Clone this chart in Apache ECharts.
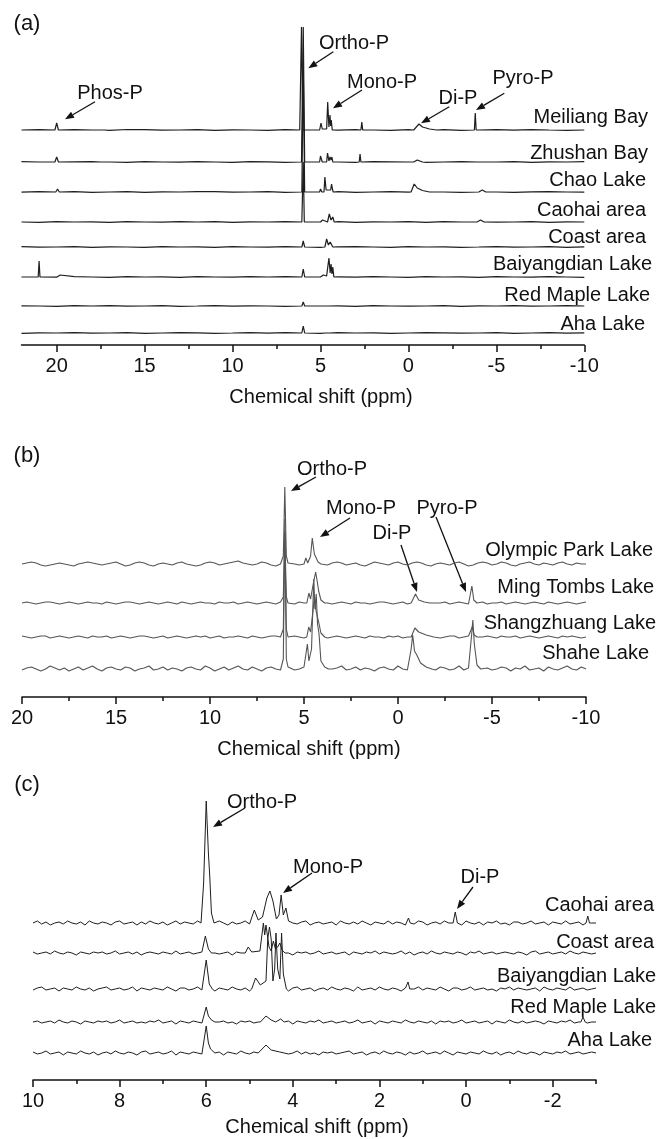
<!DOCTYPE html>
<html>
<head>
<meta charset="utf-8">
<script src="https://cdn.jsdelivr.net/npm/echarts@6/dist/echarts.min.js"></script>
<style>
html,body{margin:0;padding:0;background:#fff;}
#main{width:662px;height:1139px;}
</style>
</head>
<body>
<div id="main"></div>
<script>
// ---------- axis ticks (ppm) ----------
var ticksA = [20, 15, 10, 5, 0, -5, -10];
var minorA = [17.5, 12.5, 7.5, 2.5, -2.5, -7.5];
var ticksB = [20, 15, 10, 5, 0, -5, -10];
var minorB = [17.5, 12.5, 7.5, 2.5, -2.5, -7.5];
var ticksC = [10, 8, 6, 4, 2, 0, -2];
var minorC = [9, 7, 5, 3, 1, -1, -3];

// ---------- sample names (top to bottom) ----------
var lakesA = ['Meiliang Bay', 'Zhushan Bay', 'Chao Lake', 'Caohai area', 'Coast area', 'Baiyangdian Lake', 'Red Maple Lake', 'Aha Lake'];
var lakesB = ['Olympic Park Lake', 'Ming Tombs Lake', 'Shangzhuang Lake', 'Shahe Lake'];
var lakesC = ['Caohai area', 'Coast area', 'Baiyangdian Lake', 'Red Maple Lake', 'Aha Lake'];

// stacking offsets of each trace (intensity units)
var stackA = [215, 183, 153, 123, 98, 68, 39, 12];
var stackB = [133, 94, 60, 28];
var stackC = [157, 127, 91, 58, 27];

// ---------- baseline noise, read every 1 ppm (22 -> -10) ----------
var nA_mei = [0,0.4,-0.3,0.3,0,-0.4,0.5,0.3,-0.2,0,0.4,-0.3,0.2,0,-0.4,0.3,0,0.4,-0.2,0.3,0,-0.3,0.4,0,0.3,-0.4,0,0.3,-0.2,0.4,0,-0.3,0];
var nA_zhu = [0.3,0,-0.4,0.2,0.4,0,-0.3,0.3,0,-0.2,0.4,0,-0.3,0.3,0.2,-0.4,0,0.3,0,-0.3,0.4,0.2,0,-0.4,0,0.3,-0.2,0,0.4,-0.3,0.2,0,0.3];
var nA_chao = [-0.2,0.3,0,0.4,-0.3,0,0.3,-0.4,0.2,0,0.3,0.4,-0.2,0,0.3,-0.3,0,0.2,0.4,-0.3,0,0.3,-0.2,0.4,0,-0.3,0.3,0,-0.4,0.2,0.3,0,-0.2];
var nA_cao = [0,-0.3,0.4,0,0.2,-0.4,0.3,0,-0.2,0.4,0,0.3,-0.3,0.2,0,0.4,-0.2,0,0.3,-0.4,0.2,0,0.4,-0.3,0.3,0,0.5,-0.2,0,0.3,-0.4,0.2,0];
var nA_coast = [0.3,-0.2,0,0.4,-0.3,0.2,0,-0.4,0.3,0,0.2,-0.3,0.4,0,-0.2,0.3,0,-0.3,0.2,0.4,0,-0.4,0.3,0,0.2,-0.3,0,0.4,-0.2,0,0.3,-0.3,0.2];
var nA_bai = [0,0.4,-0.2,0.3,0,-0.3,0.4,0,0.2,-0.4,0.3,0,-0.2,0.4,0,0.3,-0.3,0,0.2,-0.2,0.4,0,-0.3,0.3,0,0.2,-0.4,0.3,0,-0.2,0.4,0,-0.3];
var nA_red = [0.2,0,-0.3,0.3,0,0.4,-0.2,0,0.3,-0.3,0,0.4,-0.2,0.2,0,-0.4,0.3,0,0.2,-0.3,0.4,0,-0.2,0,0.3,-0.3,0.2,0,0.4,-0.2,0,0.3,0];
var nA_aha = [-0.3,0.2,0,0.4,-0.2,0,0.3,-0.4,0,0.3,0.2,-0.3,0,0.4,-0.2,0.3,0,-0.3,0.4,0,0.2,-0.4,0,0.3,0.2,-0.2,0,0.4,-0.3,0,0.3,-0.2,0.2];

// ---------- baseline noise, read every 0.25 ppm (20 -> -10) ----------
var nB_oly = [0,1,2,1,-1,-2,-1,0,1,0, -1,-2,0,1,2,1,0,-1,0,1, 2,0,-2,-1,1,2,1,-1,-2,0, 1,0,-1,1,2,0,-1,-2,-1,1,
  2,1,-1,0,1,2,3,1,0,-1, 0,2,1,-1,-2,0,1,2,0,-1, -2,-1,1,2,0,-1,1,2,1,-1, 0,1,-1,-2,0,2,1,0,-1,1,
  2,0,-1,1,2,1,-1,-2,0,1, 0,-1,1,2,0,-2,-1,1,2,1, -1,0,2,1,-1,-2,0,1,2,0, -1,1,0,-1,1,2,0,-1,1,0, 0];
var nB_ming = [0,1,0,-1,0,1,1,0,-1,0, 1,0,-1,0,1,0,0,-1,1,0, -1,0,1,1,0,-1,0,1,0,-1, 0,1,0,-1,1,0,-1,0,1,0,
  0,-1,1,0,0,1,-1,0,1,0, -1,0,1,0,-1,1,0,0,-1,1, 0,-1,0,1,1,0,-1,0,1,0, -1,1,0,0,-1,0,1,1,0,-1,
  0,1,-1,0,1,0,-1,1,0,0, 1,-1,0,1,0,-1,0,1,1,-1, 0,0,1,-1,0,1,0,-1,0,1, 0,-1,1,0,-1,0,1,0,-1,0, 1];
var nB_shang = [1,0,-1,0,1,1,-1,0,1,0, -1,0,1,0,-1,1,0,0,1,-1, 0,1,0,-1,0,1,1,0,-1,0, 1,-1,0,1,0,-1,0,1,0,1,
  -1,0,1,-1,0,0,1,0,-1,1, 0,-1,0,1,1,0,-1,0,1,0, -1,1,0,0,1,-1,0,1,0,-1, 0,1,0,-1,1,0,0,-1,1,0,
  1,-1,0,1,0,0,-1,1,0,-1, 0,1,1,-1,0,1,0,-1,0,1, 0,-1,1,0,0,1,-1,0,1,0, -1,0,1,0,-1,1,0,1,0,-1, 0];
var nB_shahe = [-1,1,2,0,-2,0,3,1,-1,1, -2,0,2,-1,1,3,0,-2,1,2, 0,-1,2,1,-2,0,1,3,-1,0, 2,-1,1,0,-2,1,2,0,-1,3,
  1,-2,0,2,-1,1,3,0,-1,2, 0,-2,1,2,0,-1,1,3,-1,0, 2,-1,0,1,-2,2,0,1,3,-1, 0,2,-1,1,0,-2,1,2,0,-1,
  3,0,-1,1,2,-2,0,1,-1,2, 1,-1,0,3,-1,1,0,-2,2,1, -1,0,2,1,-2,1,0,3,-1,0, 1,-2,2,0,-1,1,3,0,-1,2, 0];

// ---------- baseline noise, read every 0.1 ppm (10 -> -3) ----------
var nC_cao = [0,2,-1,1,-2,0,1,-1,2,0, -1,1,-2,2,0,-1,1,0,-2,1, 2,-1,0,1,-2,1,-1,2,0,-1, 1,-2,0,2,-1,1,0,-1,2,-2,
  0,1,-1,2,0,-2,1,-1,0,2, -1,0,2,-2,1,0,-1,1,-2,2, 0,-1,1,2,-2,0,1,-1,0,1, -2,2,0,-1,1,-1,2,0,-2,1,
  0,-1,2,-1,1,0,-2,1,-1,2, 1,-2,0,1,-1,2,0,-1,1,-2, 2,0,-1,1,-2,1,0,2,-1,0, -2,1,1,-1,0,2,-1,0,1,-2,
  1,0,-1,2,-1,0,1,-2,2,0, 0];
var nC_coast = [1,-1,0,1,-1,2,0,-1,1,0, -2,1,0,-1,1,0,1,-1,0,2, -1,0,1,-1,1,-2,0,1,0,-1, 1,0,-1,2,-1,0,1,-1,0,1,
  -1,2,0,-1,0,1,-2,1,0,-1, 1,0,-1,1,2,-1,0,-1,1,0, -2,1,0,1,-1,0,2,-1,0,1, -1,0,1,-2,1,0,-1,1,0,2,
  -1,1,0,-1,0,2,-1,1,-2,0, 1,-1,2,0,-1,1,0,-1,1,0, -2,1,0,2,-1,0,1,-1,0,1, 0,-1,1,0,-2,1,2,-1,0,1,
  -1,0,1,-1,2,0,-1,1,0,-1, 0];
var nC_bai = [-1,1,2,-1,0,1,-2,1,0,-1, 2,0,-1,1,-2,0,1,2,-1,0, 1,-1,0,2,-2,1,0,-1,1,0, -1,2,0,-2,1,1,-1,0,2,-1,
  0,1,-2,1,0,-1,2,0,-1,1, -2,0,1,-1,2,0,-1,1,0,-2, 1,2,-1,0,1,-2,0,1,-1,2, 0,-1,1,0,-2,2,-1,0,1,-1,
  2,0,-1,1,0,-2,1,-1,0,2, -1,1,0,-1,2,0,-2,1,1,-1, 0,2,-1,0,1,-1,0,-2,1,0, 2,-1,1,0,-1,0,1,-2,2,0,
  -1,1,0,-1,2,-1,0,1,-1,0, 1];
var nC_red = [0,1,-1,0,1,-1,2,0,-1,1, 0,-2,1,0,-1,1,0,1,-1,0, 2,-1,0,1,-1,0,-1,1,0,2, -1,0,1,-2,1,0,-1,1,0,-1,
  1,2,-1,0,1,-1,0,-2,1,0, 1,-1,0,2,-1,1,0,-1,0,1, -2,1,0,-1,1,0,2,-1,0,1, -1,0,1,-1,0,2,-1,0,1,-2,
  1,0,-1,1,0,-1,2,0,-1,1, 0,-1,1,-2,1,0,1,-1,0,2, -1,0,1,-1,0,1,-2,1,0,-1, 2,0,-1,1,-1,0,1,0,-2,1,
  0,-1,1,0,2,-1,0,1,-1,0, 0];
var nC_aha = [1,-1,0,2,-1,0,1,-2,1,0, -1,2,0,-1,1,-2,0,1,-1,2, 0,-1,1,0,-2,1,2,-1,0,1, -1,0,2,-2,1,0,-1,1,0,-1,
  2,0,-1,1,-2,1,0,-1,2,0, -1,1,0,-2,1,2,-1,0,1,-1, 0,2,-1,1,-1,0,-2,1,0,1, -1,0,1,2,-1,0,1,-2,0,1,
  -1,2,0,-1,1,0,-2,1,-1,0, 2,-1,0,1,-1,2,0,-2,1,0, -1,1,0,-1,2,0,-1,1,-2,0, 1,-1,2,0,-1,1,0,-2,1,0,
  -1,1,0,2,-1,0,1,-1,0,1, 0];

// ---------- peaks: [ppm, intensity] ----------
var pA_mei = [
  [[20.1,0],[20.0,7],[19.9,0]],
  [[17.5,0],[17.4,2],[17.3,0]],
  [[6.18,0],[6.08,103],[6.0,0]],
  [[5.05,0],[4.97,7],[4.9,1],[4.65,1],[4.59,28],[4.52,3],[4.46,15],[4.42,4],[4.39,10],[4.33,0]],
  [[2.7,0],[2.65,8],[2.6,0]],
  [[-0.3,0],[-0.6,6],[-0.8,3],[-1.2,1],[-1.6,0]],
  [[-3.75,0],[-3.8,17],[-3.85,0]]
];
var pA_zhu = [
  [[20.1,0],[20.0,5],[19.9,0]],
  [[17.5,0],[17.4,1.5],[17.3,0]],
  [[6.08,0],[5.98,135],[5.9,0]],
  [[5.05,0],[5.0,6],[4.9,0],[4.65,0],[4.6,9],[4.52,1],[4.46,5],[4.4,2],[4.35,5],[4.3,0]],
  [[2.8,0],[2.75,8],[2.7,0]],
  [[-0.3,0],[-0.5,2],[-0.8,0]],
  [[-3.9,0],[-4.0,2],[-4.1,0]]
];
var pA_chao = [
  [[20.05,0],[19.95,3],[19.85,0]],
  [[6.06,0],[5.98,125],[5.9,0]],
  [[5.05,0],[5.0,3],[4.92,0],[4.8,0],[4.75,15],[4.68,2],[4.42,2],[4.37,8],[4.32,3],[4.28,0]],
  [[-0.15,0],[-0.33,8],[-0.5,4],[-0.8,1.5],[-1.2,0]],
  [[-4.0,0],[-4.2,2],[-4.4,0]]
];
var pA_cao = [
  [[6.06,0],[5.98,60],[5.92,0]],
  [[5.0,0],[4.88,2],[4.8,0],[4.6,0],[4.5,8],[4.4,2],[4.3,5],[4.22,0]],
  [[-3.9,0],[-4.1,2],[-4.3,0]]
];
var pA_coast = [
  [[6.06,0],[5.98,6],[5.9,0]],
  [[4.75,0],[4.65,8],[4.55,2],[4.45,5],[4.4,3],[4.37,6],[4.3,0]]
];
var pA_bai = [
  [[21.05,0],[21.0,16],[20.95,0]],
  [[19.9,0],[19.8,2],[19.7,0]],
  [[6.06,0],[5.98,8],[5.9,0]],
  [[4.9,0],[4.84,2],[4.65,1],[4.56,0],[4.52,19],[4.45,4],[4.4,13],[4.35,3],[4.3,10],[4.24,0]]
];
var pA_red = [
  [[6.06,0],[5.98,4],[5.9,0]],
  [[4.7,0],[4.6,2],[4.5,0]]
];
var pA_aha = [
  [[6.06,0],[5.98,7],[5.9,0]],
  [[4.7,0],[4.6,2],[4.5,0]]
];

var pB_oly = [
  [[6.2,0],[6.1,8],[6.02,77],[5.94,8],[5.85,1]],
  [[5.0,0],[4.9,6],[4.8,1],[4.65,8],[4.56,26],[4.45,10],[4.36,9],[4.25,2],[4.1,0]]
];
var pB_ming = [
  [[6.2,0],[6.1,6],[6.02,70],[5.94,6],[5.85,0]],
  [[4.85,0],[4.74,10],[4.65,4],[4.5,20],[4.38,31],[4.3,22],[4.22,12],[4.1,3],[3.9,0]],
  [[-0.7,0],[-0.93,9],[-1.1,3],[-1.4,1],[-1.7,0]],
  [[-3.8,0],[-3.93,17],[-4.03,3],[-4.2,0]]
];
var pB_shang = [
  [[6.2,0],[6.1,8],[6.02,105],[5.94,8],[5.85,0]],
  [[4.85,0],[4.75,10],[4.65,5],[4.5,30],[4.45,40],[4.38,28],[4.3,30],[4.22,15],[4.1,4],[3.9,0]],
  [[-0.7,0],[-0.9,9],[-1.1,5],[-1.5,2],[-1.9,0]],
  [[-3.85,0],[-3.95,10],[-4.05,2],[-4.2,0]]
];
var pB_shahe = [
  [[6.2,0],[6.1,10],[6.02,150],[5.94,10],[5.85,2]],
  [[4.95,0],[4.82,25],[4.74,8],[4.6,20],[4.48,90],[4.42,60],[4.35,75],[4.28,45],[4.2,35],[4.1,8],[3.9,2],[3.7,0]],
  [[-0.55,0],[-0.7,20],[-0.78,34],[-0.88,18],[-1.0,14],[-1.2,6],[-1.5,2],[-1.8,0]],
  [[-3.8,0],[-3.92,35],[-3.98,49],[-4.06,25],[-4.2,4],[-4.4,0]]
];

var pC_cao = [
  [[6.12,0],[6.06,40],[6.0,122],[5.95,70],[5.92,48],[5.88,10],[5.82,0]],
  [[4.98,0],[4.89,13],[4.8,3],[4.7,6],[4.6,25],[4.53,32],[4.46,22],[4.38,4],[4.32,8],[4.27,28],[4.22,8],[4.16,15],[4.1,2],[4.0,0]],
  [[1.37,0],[1.33,5],[1.29,0]],
  [[0.3,0],[0.25,11],[0.2,0]],
  [[-2.77,0],[-2.81,7],[-2.85,0]]
];
var pC_coast = [
  [[6.08,0],[6.02,17],[5.95,4],[5.88,0]],
  [[5.1,0],[5.03,6],[4.95,1],[4.76,2],[4.68,30],[4.65,18],[4.62,28],[4.55,6],[4.5,2],[4.45,12],[4.4,4],[4.35,6],[4.3,10],[4.25,3],[4.18,0]]
];
var pC_bai = [
  [[6.08,0],[6.0,29],[5.93,5],[5.86,0]],
  [[4.95,0],[4.86,11],[4.75,4],[4.62,8],[4.58,50],[4.54,62],[4.5,50],[4.46,8],[4.42,20],[4.39,56],[4.35,20],[4.3,10],[4.26,56],[4.22,15],[4.15,0]],
  [[1.38,0],[1.34,7],[1.3,0]]
];
var pC_red = [
  [[6.06,0],[6.0,15],[5.95,6],[5.88,2],[5.8,0]],
  [[4.75,0],[4.62,6],[4.5,2],[4.4,0],[4.28,3],[4.2,0]],
  [[-2.65,0],[-2.7,5],[-2.75,0]]
];
var pC_aha = [
  [[6.06,0],[6.0,27],[5.95,10],[5.9,4],[5.8,0]],
  [[4.8,0],[4.62,8],[4.5,3],[4.3,1],[4.2,0]]
];

// ---------- build ----------
var FONT = '"Liberation Sans", Arial, sans-serif';

// merge the sampled baseline with the peak clusters
function buildSpectrum(start, step, noise, clusters, shift) {
  var ranges = clusters.map(function (c) {
    var xs = c.map(function (p) { return p[0]; });
    return [Math.min.apply(null, xs), Math.max.apply(null, xs)];
  });
  var pts = [];
  noise.forEach(function (v, i) {
    var x = +(start - i * step).toFixed(3);
    var inside = ranges.some(function (r) { return x >= r[0] && x <= r[1]; });
    if (!inside) pts.push([x, v]);
  });
  clusters.forEach(function (c) { c.forEach(function (p) { pts.push([p[0], p[1]]); }); });
  pts.sort(function (a, b) { return b[0] - a[0]; });
  return pts.map(function (p) { return [p[0], p[1] + shift]; });
}

var panels = [
  { axis: 0, start: 22, step: 1, noise: [nA_mei, nA_zhu, nA_chao, nA_cao, nA_coast, nA_bai, nA_red, nA_aha],
    peaks: [pA_mei, pA_zhu, pA_chao, pA_cao, pA_coast, pA_bai, pA_red, pA_aha], stack: stackA, names: lakesA, color: '#1e1e1e', width: 1.2 },
  { axis: 1, start: 20, step: 0.25, noise: [nB_oly, nB_ming, nB_shang, nB_shahe],
    peaks: [pB_oly, pB_ming, pB_shang, pB_shahe], stack: stackB, names: lakesB, color: '#555', width: 1.1 },
  { axis: 2, start: 10, step: 0.1, noise: [nC_cao, nC_coast, nC_bai, nC_red, nC_aha],
    peaks: [pC_cao, pC_coast, pC_bai, pC_red, pC_aha], stack: stackC, names: lakesC, color: '#1e1e1e', width: 1 }
];

var series = [];
panels.forEach(function (p) {
  p.names.forEach(function (name, i) {
    series.push({
      name: name + ' ' + p.axis,
      type: 'line',
      xAxisIndex: p.axis,
      yAxisIndex: p.axis,
      symbol: 'none',
      smooth: false,
      animation: false,
      lineStyle: { color: p.color, width: p.width },
      data: buildSpectrum(p.start, p.step, p.noise[i], p.peaks[i], p.stack[i])
    });
  });
});

function mainAxis(grid, min, max, ticks) {
  return {
    gridIndex: grid, type: 'value', min: min, max: max, inverse: true, position: 'bottom',
    axisLine: { show: true, onZero: false, lineStyle: { color: '#111', width: 1.5 } },
    axisTick: { show: true, customValues: ticks, length: 7, lineStyle: { color: '#111', width: 1.5 } },
    axisLabel: { show: true, customValues: ticks, margin: 11, fontSize: 20, color: '#111', fontFamily: FONT },
    splitLine: { show: false }
  };
}
function minorAxis(grid, min, max, ticks) {
  return {
    gridIndex: grid, type: 'value', min: min, max: max, inverse: true, position: 'bottom',
    axisLine: { show: false, onZero: false },
    axisTick: { show: true, customValues: ticks, length: 4, lineStyle: { color: '#111', width: 1.5 } },
    axisLabel: { show: false },
    splitLine: { show: false }
  };
}
function hiddenY(grid, h) {
  return { gridIndex: grid, type: 'value', min: 0, max: h, show: false, splitLine: { show: false } };
}

// ---------- text and arrows ----------
function txt(s, x, y, align, size) {
  return { type: 'text', x: x, y: y, silent: true,
    style: { text: s, font: (size || 20) + 'px ' + FONT, fill: '#111',
      align: align || 'center', verticalAlign: 'middle', textAlign: align || 'center', textVerticalAlign: 'middle' } };
}
function arrow(x1, y1, x2, y2) {
  var dx = x2 - x1, dy = y2 - y1, L = Math.sqrt(dx * dx + dy * dy);
  var ux = dx / L, uy = dy / L, hl = 9, hw = 3.5;
  var bx = x2 - ux * hl, by = y2 - uy * hl;
  return [
    { type: 'line', silent: true, shape: { x1: x1, y1: y1, x2: bx, y2: by }, style: { stroke: '#111', lineWidth: 1.3 } },
    { type: 'polygon', silent: true, shape: { points: [[x2, y2], [bx - uy * hw, by + ux * hw], [bx + uy * hw, by - ux * hw]] }, style: { fill: '#111' } }
  ];
}

var graphics = [
  txt('(a)', 27, 24, 'center', 22), txt('(b)', 27, 456, 'center', 22), txt('(c)', 27, 785, 'center', 22),
  txt('Chemical shift (ppm)', 321, 397), txt('Chemical shift (ppm)', 309, 749), txt('Chemical shift (ppm)', 317, 1127),
  // panel a annotations
  txt('Phos-P', 110, 93), txt('Ortho-P', 354, 43), txt('Mono-P', 382, 82), txt('Di-P', 458, 98), txt('Pyro-P', 523, 78),
  // panel b annotations
  txt('Ortho-P', 332, 469), txt('Mono-P', 361, 508), txt('Di-P', 392, 533), txt('Pyro-P', 447, 508),
  // panel c annotations
  txt('Ortho-P', 262, 802), txt('Mono-P', 328, 867), txt('Di-P', 480, 877)
];
[[95, 101.7, 65, 119.3], [333.3, 51.7, 308.3, 68.3], [362, 90, 333, 108.3], [449.3, 106.7, 421, 123.3], [504.3, 93.3, 476, 110],
 [316, 477, 291, 491], [350, 518, 320, 537], [401, 545, 417, 592], [436, 517, 466, 592],
 [245, 808, 213, 827], [312, 873, 283, 893], [473, 887, 457, 909]].forEach(function (a) {
  graphics = graphics.concat(arrow(a[0], a[1], a[2], a[3]));
});
var labelPosA = [[648, 117], [648, 153], [646, 180], [646, 210], [646, 237], [652, 264], [650, 295], [645, 324]];
var labelPosB = [[653, 550], [654, 587], [656, 623], [649, 653]];
var labelPosC = [[654, 905], [654, 942], [656, 976], [656, 1007], [652, 1040]];
lakesA.forEach(function (n, i) { graphics.push(txt(n, labelPosA[i][0], labelPosA[i][1], 'right')); });
lakesB.forEach(function (n, i) { graphics.push(txt(n, labelPosB[i][0], labelPosB[i][1], 'right')); });
lakesC.forEach(function (n, i) { graphics.push(txt(n, labelPosC[i][0], labelPosC[i][1], 'right')); });

var myChart = echarts.init(document.getElementById('main'), null, { renderer: 'canvas' });
var option = {
  backgroundColor: '#fff',
  animation: false,
  grid: [
    { left: 21.5, right: 77.7, top: 20, height: 325 },
    { left: 22, right: 76, top: 440, height: 257 },
    { left: 33, right: 66, top: 780, height: 300 }
  ],
  xAxis: [
    mainAxis(0, -10, 22, ticksA), mainAxis(1, -10, 20, ticksB), mainAxis(2, -3, 10, ticksC),
    minorAxis(0, -10, 22, minorA), minorAxis(1, -10, 20, minorB), minorAxis(2, -3, 10, minorC)
  ],
  yAxis: [hiddenY(0, 325), hiddenY(1, 257), hiddenY(2, 300)],
  graphic: graphics,
  series: series
};
myChart.setOption(option);
</script>
</body>
</html>
